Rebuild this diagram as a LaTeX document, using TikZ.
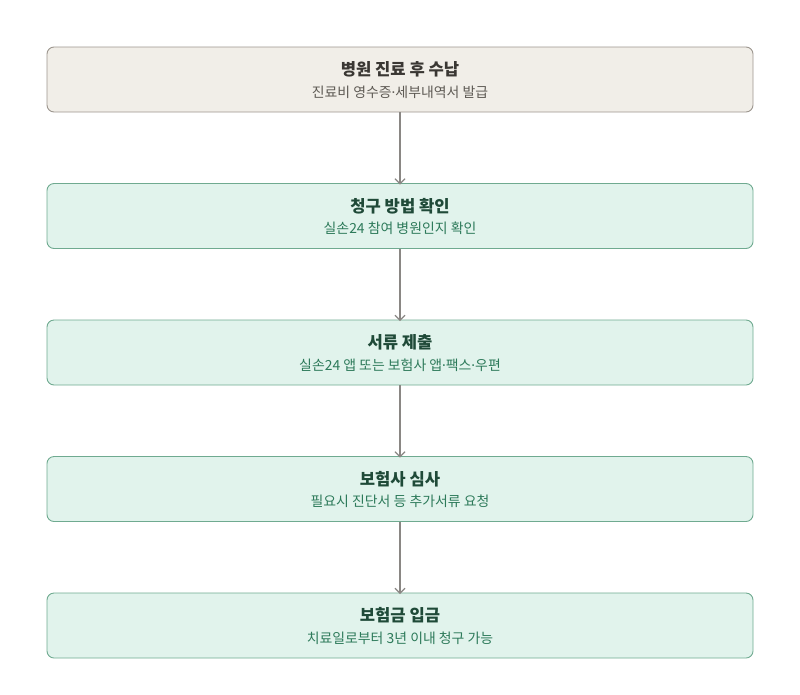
\documentclass[tikz,border=0pt]{standalone}
\usepackage{fontspec}
\newfontfamily\kr{Noto Sans CJK KR}
\newfontfamily\lat{Noto Sans}
\newcommand{\md}{{\lat ·}}
\usetikzlibrary{arrows.meta}
\definecolor{bgA}{HTML}{F1EEE8}
\definecolor{bdA}{HTML}{9C968E}
\definecolor{ttA}{HTML}{3A3733}
\definecolor{stA}{HTML}{5E5A54}
\definecolor{bgG}{HTML}{E1F3EC}
\definecolor{bdG}{HTML}{6FAA90}
\definecolor{ttG}{HTML}{1F4A38}
\definecolor{stG}{HTML}{2D7A5A}
\definecolor{arr}{HTML}{8A8784}
\begin{document}
\begin{tikzpicture}[x=1pt,y=-1pt,
  boxbase/.style={rounded corners=7pt, line width=0.9pt, minimum width=706pt, minimum height=65pt, inner sep=0pt},
  boxA/.style={boxbase, draw=bdA, fill=bgA},
  boxG/.style={boxbase, draw=bdG, fill=bgG},
  titleA/.style={font=\kr\fontsize{16.6}{18}\selectfont\bfseries, text=ttA},
  subA/.style={font=\kr\fontsize{13.9}{15}\selectfont, text=stA},
  titleG/.style={font=\kr\fontsize{16.6}{18}\selectfont\bfseries, text=ttG},
  subG/.style={font=\kr\fontsize{13.9}{15}\selectfont, text=stG},
  conn/.style={draw=arr, line width=1.2pt, -{Straight Barb[length=5pt,width=10pt,line width=1.2pt]}}
]
\useasboundingbox (0,0) rectangle (800,694);
\node[boxA] (b1) at (400,79.5) {};
\node[titleA] (t1) at (400,69.5) {병원 진료 후 수납};
\node[subA] (s1) at (400,92) {진료비 영수증\md 세부내역서 발급};
\node[boxG] (b2) at (400,216) {};
\node[titleG] (t2) at (400,206) {청구 방법 확인};
\node[subG] (s2) at (400,228.5) {실손24 참여 병원인지 확인};
\node[boxG] (b3) at (400,352.5) {};
\node[titleG] (t3) at (400,342.5) {서류 제출};
\node[subG] (s3) at (400,365) {실손24 앱 또는 보험사 앱\md 팩스\md 우편};
\node[boxG] (b4) at (400,489) {};
\node[titleG] (t4) at (400,479) {보험사 심사};
\node[subG] (s4) at (400,501.5) {필요시 진단서 등 추가서류 요청};
\node[boxG] (b5) at (400,625.5) {};
\node[titleG] (t5) at (400,615.5) {보험금 입금};
\node[subG] (s5) at (400,638) {치료일로부터 3년 이내 청구 가능};
\draw[conn] (b1.south) -- ([yshift=-1.5pt]b2.north);
\draw[conn] (b2.south) -- ([yshift=-1.5pt]b3.north);
\draw[conn] (b3.south) -- ([yshift=-1.5pt]b4.north);
\draw[conn] (b4.south) -- ([yshift=-1.5pt]b5.north);
\end{tikzpicture}
\end{document}
